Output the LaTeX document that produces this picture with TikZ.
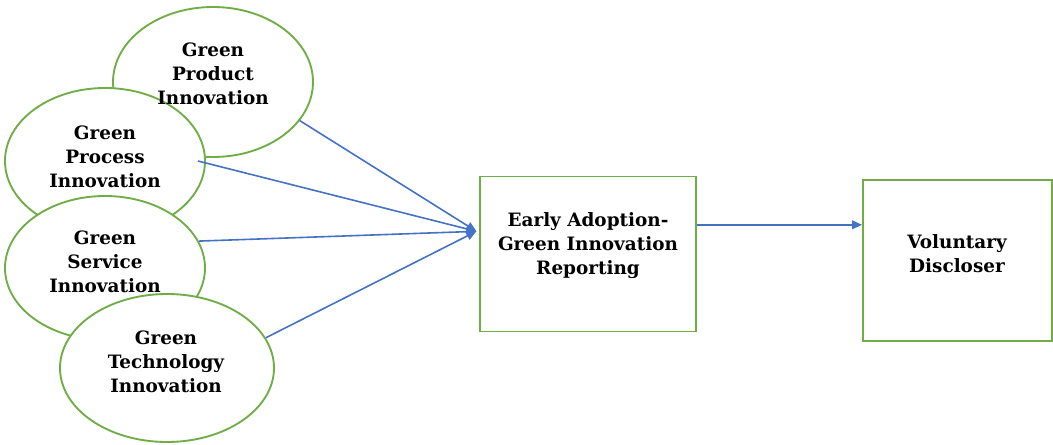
\documentclass[tikz,border=0pt]{standalone}
\usepackage{fontspec}
\setmainfont{DejaVu Serif}
\usepackage{tikz}
\usetikzlibrary{arrows.meta,shapes.geometric}
\definecolor{leafgreen}{HTML}{70AD47}
\definecolor{linkblue}{HTML}{4472C4}

\begin{document}
\begin{tikzpicture}[x=0.75pt,y=-0.75pt,->,>={Triangle[length=7.5pt,width=6.5pt]},
                    shorten >=0pt]
  \tikzstyle{construct}=[ellipse,draw=leafgreen,fill=white,line width=1.4pt,inner sep=0pt]
  \tikzstyle{stage}=[rectangle,draw=leafgreen,fill=white,line width=1.4pt,inner sep=0pt]
  \tikzstyle{caption}=[align=center,inner sep=0pt,
                       font=\fontsize{13.8}{18}\selectfont\bfseries]
  \tikzstyle{every edge}=[draw=linkblue,line width=1.2pt]

  \useasboundingbox (0,0) rectangle (1053,445);

  % drivers, back to front
  \node[construct,minimum width=150pt,minimum height=112.5pt] (prod) at (213,82)  {};
  \node[construct,minimum width=150pt,minimum height=109.5pt] (proc) at (105,161) {};
  \node[construct,minimum width=150pt,minimum height=108pt]   (serv) at (105,268) {};
  \node[construct,minimum width=160.5pt,minimum height=111pt] (tech) at (167,368) {};

  % outcomes
  \node[stage,minimum width=162pt,minimum height=116.25pt]     (early) at (588,254)   {};
  \node[stage,minimum width=141.75pt,minimum height=120.75pt]  (vol)   at (957.5,260.5) {};

  % texts on top
  \node[caption] (prodtxt)  at (213,74)  {Green\\Product\\Innovation};
  \node[caption] (proctxt)  at (105,157) {Green\\Process\\Innovation};
  \node[caption] (servtxt)  at (105,262) {Green\\Service\\Innovation};
  \node[caption] (techtxt)  at (166,362) {Green\\Technology\\Innovation};
  \node[caption] (earlytxt) at (588,246) {Early Adoption-\\Green Innovation\\Reporting};
  \node[caption] (voltxt)   at (957,254) {Voluntary\\Discloser};

  \coordinate (hub) at ([xshift=-2pt,yshift=17pt]early.west);

  \path (prod.-24)               edge (hub)
        ([xshift=-6pt]proc.east) edge (hub)
        (serv.16)                edge (hub)
        (tech.17)                edge (hub)
        (early.15)               edge (early.15 -| vol.west);
\end{tikzpicture}
\end{document}
